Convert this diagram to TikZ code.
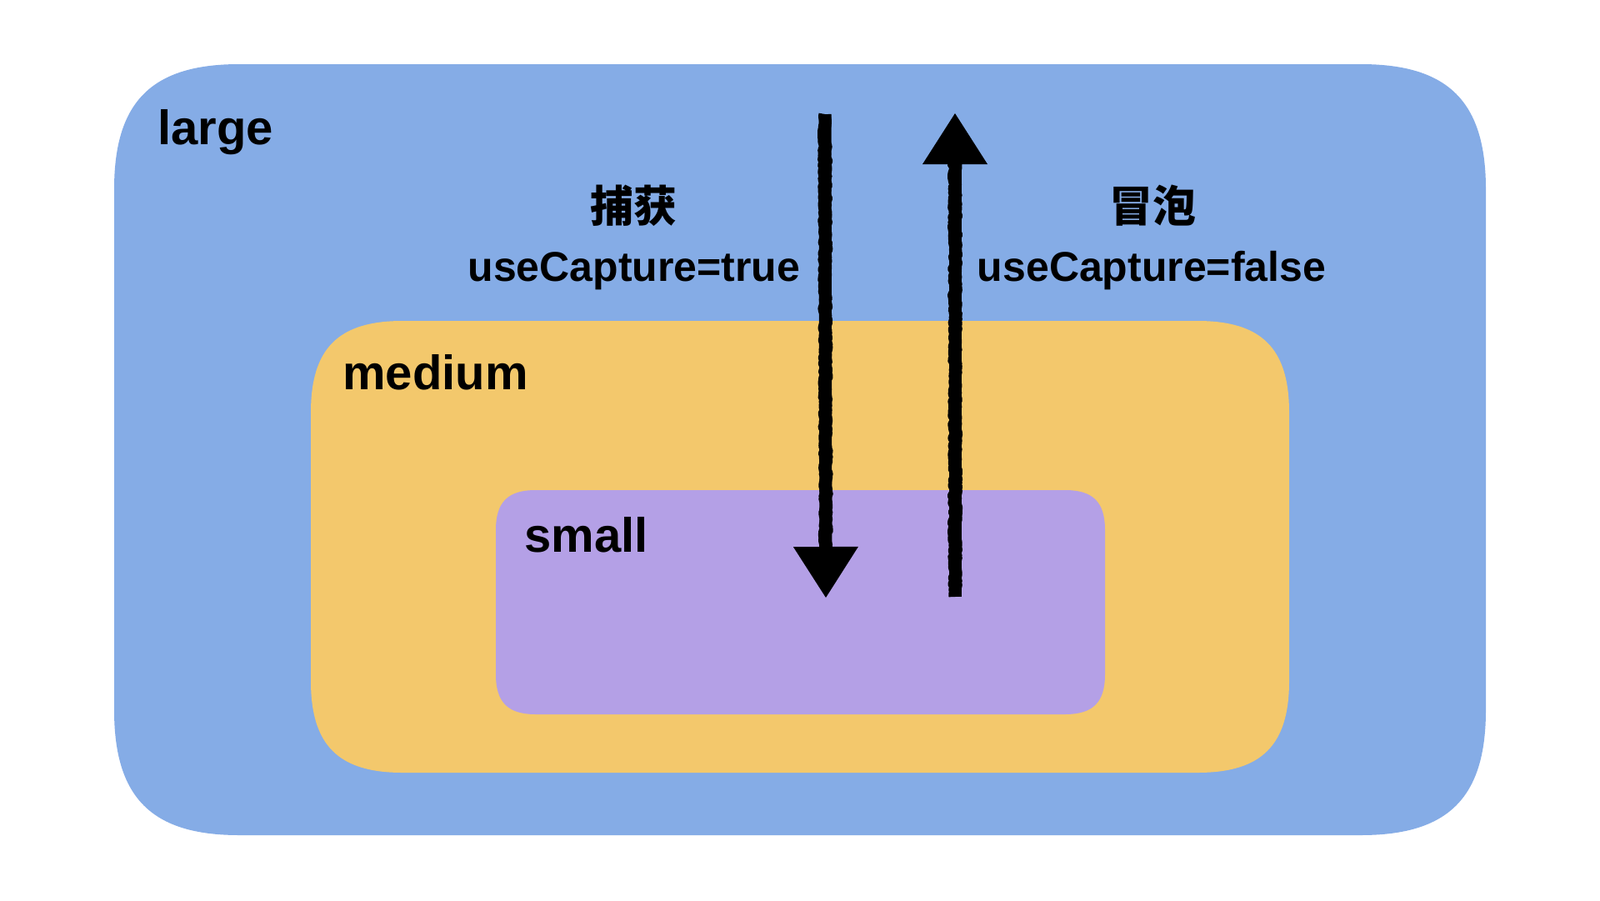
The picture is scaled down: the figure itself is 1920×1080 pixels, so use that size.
\documentclass[tikz,border=0pt]{standalone}
\usepackage{fontspec}
\setmainfont{Liberation Sans}
\newfontfamily\cjk{Noto Sans CJK SC}
\usetikzlibrary{arrows.meta,decorations.pathmorphing,calc}
\definecolor{largeblue}{RGB}{133,172,230}
\definecolor{mediumyellow}{RGB}{243,200,108}
\definecolor{smallpurple}{RGB}{180,160,230}
% squircle-like rounded rectangle: colour, left, top, right, bottom, corner span
\newcommand\sqbox[6]{%
  \fill[#1] (#2+#6,#3) -- (#4-#6,#3)
    .. controls (#4-0.3*#6,#3) and (#4,#3+0.3*#6) .. (#4,#3+#6)
    -- (#4,#5-#6)
    .. controls (#4,#5-0.3*#6) and (#4-0.3*#6,#5) .. (#4-#6,#5)
    -- (#2+#6,#5)
    .. controls (#2+0.3*#6,#5) and (#2,#5-0.3*#6) .. (#2,#5-#6)
    -- (#2,#3+#6)
    .. controls (#2,#3+0.3*#6) and (#2+0.3*#6,#3) .. (#2+#6,#3) -- cycle;}
\begin{document}
\begin{tikzpicture}[x=1pt,y=-1pt,
  boxlabel/.style={font=\bfseries\fontsize{58}{60}\selectfont, inner sep=0pt, anchor=base west},
  cjklabel/.style={font=\cjk\bfseries\fontsize{52}{54}\selectfont, inner sep=0pt, anchor=base},
  codelabel/.style={font=\bfseries\fontsize{50}{52}\selectfont, inner sep=0pt, anchor=base},
  evarrow/.style={black, line width=15pt, -{Triangle[width=78pt,length=61pt,line width=0pt]}},
  crayon/.style={black, line width=15pt, line join=round,
    decoration={random steps, segment length=2.5pt, amplitude=1.6pt}, decorate}]
\useasboundingbox (0,0) rectangle (1920,1080);
\fill[white] (0,0) rectangle (1920,1080);
\sqbox{largeblue}{137}{77}{1783}{1002}{150}
\sqbox{mediumyellow}{373}{385}{1547}{927}{110}
\sqbox{smallpurple}{595}{588}{1326}{857}{48}
\node[boxlabel] (large) at (189,173) {large};
\node[boxlabel] (medium) at (411,467) {medium};
\node[boxlabel] (small) at (629,662) {small};
\node[cjklabel] (capture) at (760,266) {捕获};
\node[codelabel] (capturecode) at (761,337) {useCapture=true};
\node[cjklabel] (bubble) at (1383,266) {冒泡};
\node[codelabel] (bubblecode) at (1382,337) {useCapture=false};
\coordinate (capS) at (990,137);
\coordinate (capE) at (991,717);
\coordinate (bubS) at (1146,716);
\coordinate (bubE) at (1146,136);
\coordinate (capH) at ($(capE)!56pt!(capS)$);
\coordinate (bubH) at ($(bubE)!56pt!(bubS)$);
\draw[evarrow] (capS) -- (capE);
\draw[crayon] (capS) -- (capH);
\draw[evarrow] (bubS) -- (bubE);
\draw[crayon] (bubS) -- (bubH);
\end{tikzpicture}
\end{document}
